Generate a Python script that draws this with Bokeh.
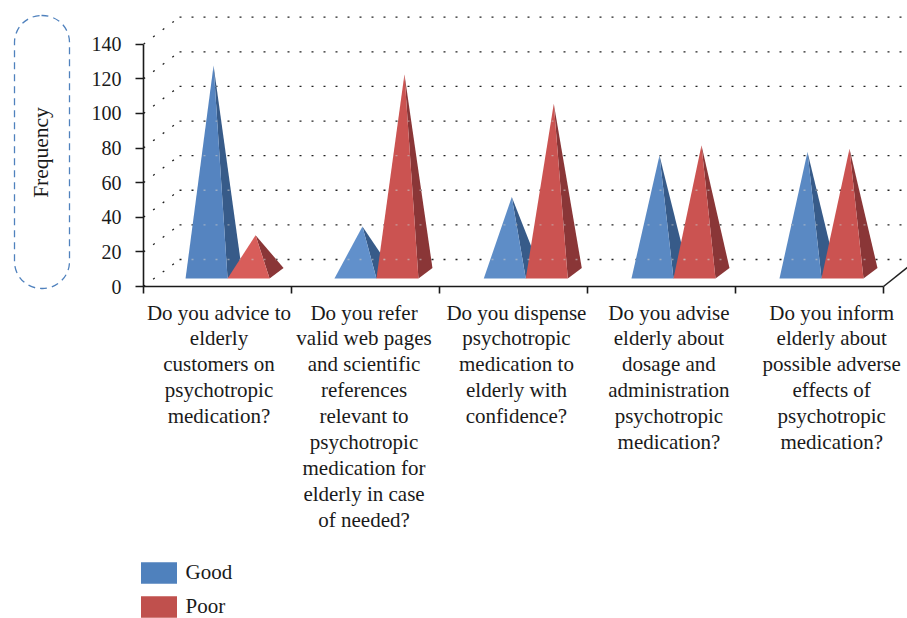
from bokeh.plotting import figure
from bokeh.embed import file_html
from bokeh.resources import INLINE
from bokeh.models import (FixedTicker, Range1d, BoxAnnotation, Label, Legend, LegendItem)
import numpy as np

questions = [
    "Do you advice to\nelderly\ncustomers on\npsychotropic\nmedication?",
    "Do you refer\nvalid web pages\nand scientific\nreferences\nrelevant to\npsychotropic\nmedication for\nelderly in case\nof needed?",
    "Do you dispense\npsychotropic\nmedication to\nelderly with\nconfidence?",
    "Do you advise\nelderly about\ndosage and\nadministration\npsychotropic\nmedication?",
    "Do you inform\nelderly about\npossible adverse\neffects of\npsychotropic\nmedication?",
]
good = [120, 27, 44, 68, 70]
poor = [22, 115, 98, 74, 72]
y_ticks = [0, 20, 40, 60, 80, 100, 120, 140]
label_pos = [0.51, 1.49, 2.52, 3.55, 4.65]
series_names = ["Good", "Poor"]

FONT = "Liberation Serif"
SX, SY = 148.0, 242.3 / 140
W, DX = 42 / SX, 14 / SX
DY, BASE = 10.5 / SY, 8 / SY
WALL_X, WALL_Y = 36 / SX, 27 / SY
X0, X_END = -143 / SX, 764 / SX
Y0, Y_END = -332 / SY, 286 / SY

p = figure(width=907, height=618, output_backend="svg", toolbar_location=None,
           x_range=Range1d(X0, X_END), y_range=Range1d(Y0, Y_END),
           min_border=0, outline_line_color=None)
p.grid.visible = False

# wall grid + side diagonals
p.multi_line([[WALL_X, X_END] for v in y_ticks], [[v + WALL_Y] * 2 for v in y_ticks],
             line_color="#222222", line_width=1.3, line_dash="2 10")
p.multi_line([[0, WALL_X] for v in y_ticks], [[v, v + WALL_Y] for v in y_ticks],
             line_color="#222222", line_width=1.3, line_dash="2 10")
p.line([5, X_END], [0, (X_END - 5) * SX * 0.8 / SY], line_color="#222222", line_width=1.6)


def faces(lefts, vals):
    fx, fy, sx, sy = [], [], [], []
    for L, v in zip(lefts, vals):
        ax, ay = L + (W + DX) / 2, BASE + DY / 2 + v
        fx.append([L, L + W, ax]); fy.append([BASE, BASE, ay])
        sx.append([L + W, L + W + DX, ax]); sy.append([BASE, BASE + DY, ay])
    return fx, fy, sx, sy


bound = [i + s for i, s in enumerate((0.568, 0.574, 0.583, 0.581, 0.581))]
gl = [b - W for b in bound]
good_face = ["#5584C0", "#6190CB", "#5E8DC7", "#5A89C3", "#5A89C3"]
poor_face = ["#D85D5A", "#CB5351", "#CB5351", "#CB5351", "#CB5351"]
for lefts, vals, c1, c2 in ((gl, good, good_face, "#375B89"), (bound, poor, poor_face, "#8A3637")):
    fx, fy, sx, sy = faces(lefts, vals)
    p.patches(sx, sy, fill_color=c2, line_color=None)
    p.patches(fx, fy, fill_color=c1, line_color=None)

# faint grid dots that show through the pyramids
ox, oy = [], []
period = 12 / SX
for lefts, vals in ((gl, good), (bound, poor)):
    for L, v in zip(lefts, vals):
        ay = BASE + DY / 2 + v
        ax = L + (W + DX) / 2
        for t in y_ticks:
            gy = t + WALL_Y
            if gy >= ay or gy <= BASE:
                continue
            xl = L + (ax - L) * (gy - BASE) / (ay - BASE)
            xr = (L + W + DX) + (ax - L - W - DX) * (gy - BASE - DY) / (ay - BASE - DY)
            x0 = WALL_X + np.ceil((xl - WALL_X) / period) * period
            if x0 < xr:
                ox.append([x0, xr]); oy.append([gy, gy])
p.multi_line(ox, oy, line_color="#c8c8c8", line_width=1.3, line_dash="2 10", line_alpha=0.6)

# axes
xa, ya = p.xaxis[0], p.yaxis[0]
ya.fixed_location = 0
ya.ticker = FixedTicker(ticks=y_ticks)
ya.bounds = (0, 140)
ya.axis_line_color = ya.major_tick_line_color = "#1a1a1a"
ya.axis_line_width = ya.major_tick_line_width = 1.6
ya.major_tick_in, ya.major_tick_out = 0, 8
ya.minor_tick_line_color = None
ya.major_label_standoff = 14
ya.major_label_text_font = FONT
ya.major_label_text_font_size = "20px"
ya.major_label_text_color = "#1a1a1a"

xa.fixed_location = 0
xa.ticker = FixedTicker(ticks=label_pos, minor_ticks=[0, 1, 2, 3, 4, 5])
xa.bounds = (0, 5)
xa.major_label_overrides = dict(zip(label_pos, questions))
xa.axis_line_color = xa.minor_tick_line_color = "#1a1a1a"
xa.axis_line_width = xa.minor_tick_line_width = 1.6
xa.major_tick_line_color = None
xa.major_tick_in, xa.major_tick_out = 0, 7
xa.minor_tick_in, xa.minor_tick_out = 0, 7
xa.major_label_standoff = 7
xa.major_label_orientation = "horizontal"
xa.major_label_text_font = FONT
xa.major_label_text_font_size = "21px"
xa.major_label_text_color = "#1a1a1a"
xa.major_label_text_line_height = 1.08

# Frequency box
p.add_layout(BoxAnnotation(left=14, right=69, top=15, bottom=288,
                           left_units="canvas", right_units="canvas",
                           top_units="canvas", bottom_units="canvas",
                           fill_color=None, fill_alpha=0, line_color="#4F81BD", line_width=1.3,
                           line_alpha=1, line_dash="7 5", border_radius=27, level="overlay"))
p.add_layout(Label(x=40, y=152, x_units="canvas", y_units="canvas", text="Frequency",
                   angle=np.pi / 2, text_align="center", text_baseline="middle",
                   text_font=FONT, text_font_size="21.5px", text_color="#1a1a1a"))

# legend
nan = float("nan")
r1 = p.quad(left=[nan], right=[nan], top=[nan], bottom=[nan], fill_color="#4F81BD", line_color=None)
r2 = p.quad(left=[nan], right=[nan], top=[nan], bottom=[nan], fill_color="#C0504D", line_color=None)
legend = Legend(items=[LegendItem(label=series_names[0], renderers=[r1]),
                       LegendItem(label=series_names[1], renderers=[r2])],
                location=(135.5, -1.75), orientation="vertical", glyph_width=45, glyph_height=27,
                label_height=27, label_standoff=5, spacing=7, margin=0, padding=0,
                background_fill_alpha=0, border_line_color=None,
                label_text_font=FONT, label_text_font_size="21px", label_text_color="#1a1a1a")
p.add_layout(legend, "center")

open("out.html", "w").write(file_html(p, INLINE))
